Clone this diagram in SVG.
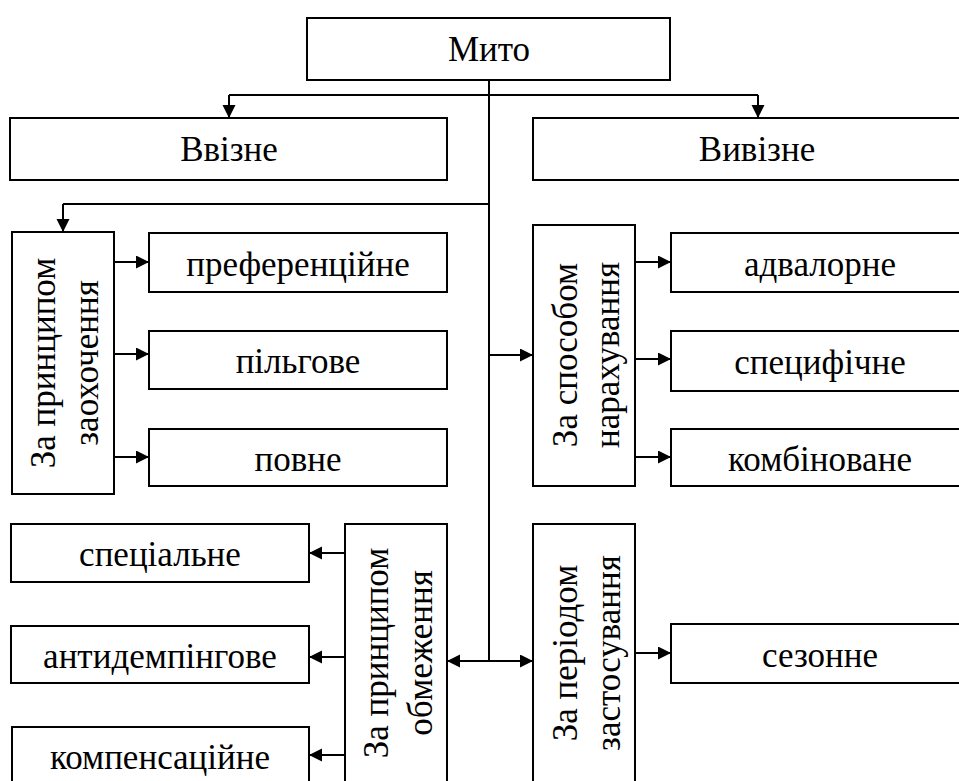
<svg xmlns="http://www.w3.org/2000/svg" width="959" height="781" viewBox="0 0 959 781">
  <defs>
    <marker id="head" markerUnits="userSpaceOnUse" markerWidth="14" markerHeight="14" refX="13" refY="6.5" orient="auto">
      <path d="M0,0 L13,6.5 L0,13 Z" fill="#000"/>
    </marker>
  </defs>

  <!-- connectors: plain trunk lines first, then arrowed branches -->
  <g id="connectors" fill="none" stroke="#000" stroke-width="2">
    <path d="M489,80 V661"/>
    <path d="M229,95 H758"/>
    <path d="M489,204 H63"/>
    <g marker-end="url(#head)">
      <path d="M229,95 V118"/>
      <path d="M758,95 V118"/>
      <path d="M63,204 V232"/>
      <path d="M114,262 H149"/>
      <path d="M114,354 H149"/>
      <path d="M114,457 H149"/>
      <path d="M489,355 H533"/>
      <path d="M635,262 H671"/>
      <path d="M635,359 H671"/>
      <path d="M635,457 H671"/>
      <path d="M489,661 H447"/>
      <path d="M489,661 H533"/>
      <path d="M345,553 H309"/>
      <path d="M345,657 H309"/>
      <path d="M345,755 H309"/>
      <path d="M635,653 H671"/>
    </g>
  </g>

  <!-- node frames -->
  <g id="frames" fill="#fff" stroke="#000" stroke-width="2">
    <rect id="myto" x="307" y="18" width="363" height="62"/>
    <rect id="vvizne" x="10" y="118" width="437" height="62"/>
    <rect id="vyvizne" x="533" y="118" width="448" height="62"/>
    <rect id="zaokhochennia" x="12" y="232" width="102" height="262"/>
    <rect id="preferentsiine" x="149" y="233" width="298" height="59"/>
    <rect id="pilhove" x="149" y="331" width="298" height="58"/>
    <rect id="povne" x="149" y="429" width="298" height="57"/>
    <rect id="narakhuvannia" x="533" y="225" width="102" height="261"/>
    <rect id="advalorne" x="671" y="233" width="300" height="59"/>
    <rect id="spetsyfichne" x="671" y="331" width="300" height="60"/>
    <rect id="kombinovane" x="671" y="429" width="300" height="57"/>
    <rect id="obmezhennia" x="345" y="524" width="102" height="262"/>
    <rect id="spetsialne" x="11" y="524" width="298" height="58"/>
    <rect id="antydempinhove" x="11" y="626" width="298" height="57"/>
    <rect id="kompensatsiine" x="12" y="727" width="297" height="60"/>
    <rect id="zastosuvannia" x="533" y="524" width="102" height="262"/>
    <rect id="sezonne" x="671" y="624" width="300" height="59"/>
  </g>

  <!-- node labels -->
  <g id="labels" font-family="Liberation Serif, Times New Roman, DejaVu Serif, serif" font-size="35" text-anchor="middle" fill="#000">
    <text x="489" y="61">Мито</text>
    <text x="229" y="161">Ввізне</text>
    <text x="757" y="161">Вивізне</text>
    <text transform="translate(63,363) rotate(-90)"><tspan x="0" y="-8">За принципом</tspan><tspan x="0" y="35">заохочення</tspan></text>
    <text x="298" y="276">преференційне</text>
    <text x="298" y="373">пільгове</text>
    <text x="298" y="471">повне</text>
    <text transform="translate(584,355) rotate(-90)"><tspan x="0" y="-7">За способом</tspan><tspan x="0" y="35">нарахування</tspan></text>
    <text x="820" y="276">адвалорне</text>
    <text x="820" y="374">специфічне</text>
    <text x="820" y="471">комбіноване</text>
    <text transform="translate(396,653) rotate(-90)"><tspan x="0" y="-8">За принципом</tspan><tspan x="0" y="36">обмеження</tspan></text>
    <text x="160" y="566">спеціальне</text>
    <text x="160" y="668">антидемпінгове</text>
    <text x="160" y="769">компенсаційне</text>
    <text transform="translate(584,653) rotate(-90)"><tspan x="0" y="-7">За періодом</tspan><tspan x="0" y="36">застосування</tspan></text>
    <text x="820" y="667">сезонне</text>
  </g>
</svg>
